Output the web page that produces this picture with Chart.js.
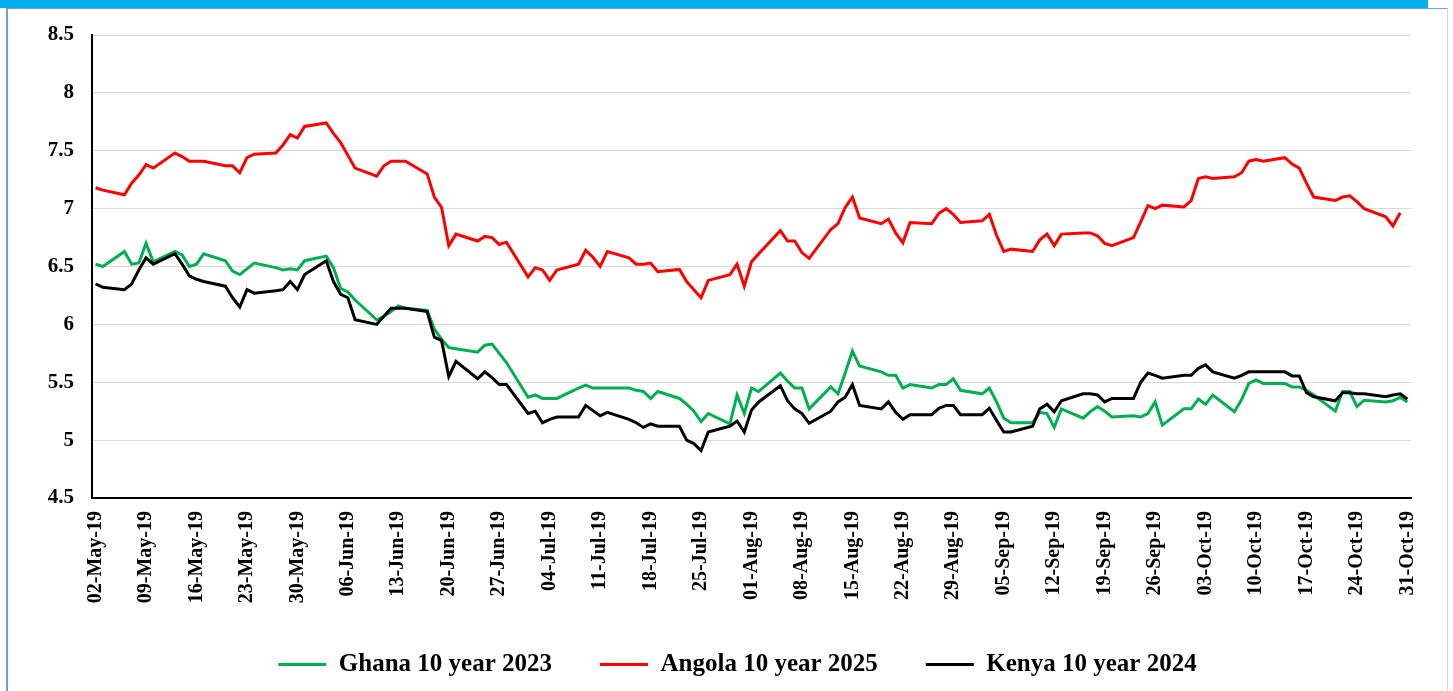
<!DOCTYPE html>
<html>
<head>
<meta charset="utf-8">
<script src="https://cdn.jsdelivr.net/npm/chart.js@4.4.1/dist/chart.umd.min.js"></script>
<style>
  html, body { margin: 0; padding: 0; background: #fff; overflow: hidden; }
  #wrap { position: relative; width: 1453px; height: 691px; }
  #topbar { position: absolute; left: 0; top: 0; width: 1428px; height: 8px; background: #00b0f0; }
  #frame { position: absolute; left: 6px; top: 8px; width: 1439px; height: 700px;
           border-left: 2px solid #6d9fd8; border-top: 1px solid #6d9fd8; border-right: 1px solid #d6d6d6; }
  canvas { position: absolute; left: 0; top: 0; }
</style>
</head>
<body>
<div id="wrap">
  <div id="topbar"></div>
  <div id="frame"></div>
  <canvas id="lineChart" width="1453" height="691"></canvas>
</div>
<script>
// trading days, 2019 (MM-DD)
const dates = ['05-02','05-03','05-06','05-07','05-08','05-09','05-10','05-13','05-14','05-15','05-16','05-17','05-20','05-21','05-22','05-23','05-24','05-27','05-28','05-29','05-30','05-31',
  '06-03','06-04','06-05','06-06','06-07','06-10','06-11','06-12','06-13','06-14','06-17','06-18','06-19','06-20','06-21','06-24','06-25','06-26','06-27','06-28',
  '07-01','07-02','07-03','07-04','07-05','07-08','07-09','07-10','07-11','07-12','07-15','07-16','07-17','07-18','07-19','07-22','07-23','07-24','07-25','07-26','07-29','07-30','07-31',
  '08-01','08-02','08-05','08-06','08-07','08-08','08-09','08-12','08-13','08-14','08-15','08-16','08-19','08-20','08-21','08-22','08-23','08-26','08-27','08-28','08-29','08-30',
  '09-02','09-03','09-04','09-05','09-06','09-09','09-10','09-11','09-12','09-13','09-16','09-17','09-18','09-19','09-20','09-23','09-24','09-25','09-26','09-27','09-30',
  '10-01','10-02','10-03','10-04','10-07','10-08','10-09','10-10','10-11','10-14','10-15','10-16','10-17','10-18','10-21','10-22','10-23','10-24','10-25','10-28','10-29','10-30','10-31'];

const ghana = [6.52,6.50,6.63,6.52,6.53,6.70,6.54,6.63,6.60,6.50,6.52,6.61,6.55,6.46,6.43,6.48,6.53,6.49,6.47,6.48,6.47,6.55,
  6.59,6.49,6.31,6.28,6.21,6.04,6.07,6.11,6.16,6.14,6.12,5.96,5.87,5.80,5.79,5.76,5.82,5.83,5.75,5.67,
  5.37,5.39,5.36,5.36,5.36,5.45,5.475,5.45,5.45,5.45,5.45,5.43,5.42,5.36,5.42,5.36,5.31,5.25,5.16,5.23,5.14,5.39,5.23,
  5.45,5.42,5.58,5.51,5.45,5.45,5.27,5.46,5.40,5.58,5.77,5.64,5.59,5.56,5.56,5.45,5.48,5.45,5.48,5.48,5.53,5.43,
  5.40,5.45,5.33,5.19,5.15,5.15,5.24,5.23,5.11,5.27,5.19,5.245,5.29,5.25,5.20,5.21,5.20,5.23,5.33,5.13,5.27,
  5.27,5.355,5.31,5.39,5.245,5.35,5.49,5.52,5.49,5.49,5.46,5.46,5.43,5.39,5.25,5.42,5.42,5.29,5.345,5.33,5.34,5.37,5.33];

const angola = [7.18,7.16,7.12,7.22,7.29,7.38,7.35,7.48,7.45,7.41,7.41,7.41,7.37,7.37,7.31,7.44,7.47,7.48,7.55,7.64,7.61,7.71,
  7.74,7.65,7.57,7.46,7.35,7.28,7.37,7.41,7.41,7.41,7.30,7.10,7.01,6.68,6.78,6.72,6.76,6.75,6.69,6.71,
  6.41,6.49,6.47,6.38,6.47,6.52,6.64,6.58,6.50,6.63,6.575,6.52,6.52,6.53,6.455,6.475,6.37,6.30,6.23,6.38,6.43,6.52,6.33,
  6.54,6.61,6.81,6.72,6.72,6.62,6.57,6.82,6.87,7.01,7.10,6.92,6.87,6.91,6.79,6.705,6.88,6.87,6.96,7.00,6.95,6.88,
  6.895,6.95,6.77,6.63,6.65,6.63,6.73,6.78,6.68,6.78,6.79,6.79,6.765,6.70,6.68,6.75,6.885,7.025,7.00,7.03,7.015,
  7.07,7.26,7.275,7.26,7.275,7.31,7.41,7.425,7.41,7.44,7.385,7.35,7.22,7.10,7.07,7.10,7.11,7.06,7.00,6.93,6.85,6.965,null];

const kenya = [6.35,6.32,6.30,6.35,6.47,6.575,6.52,6.61,6.52,6.42,6.39,6.37,6.33,6.23,6.15,6.30,6.27,6.29,6.30,6.37,6.30,6.43,
  6.55,6.37,6.26,6.23,6.04,6.00,6.07,6.14,6.14,6.14,6.11,5.89,5.86,5.55,5.68,5.53,5.59,5.54,5.48,5.48,
  5.23,5.25,5.15,5.18,5.20,5.20,5.30,5.255,5.21,5.24,5.18,5.15,5.11,5.14,5.12,5.12,5.00,4.97,4.91,5.07,5.12,5.165,5.07,
  5.26,5.33,5.47,5.34,5.27,5.23,5.145,5.25,5.33,5.37,5.48,5.30,5.27,5.33,5.24,5.18,5.22,5.22,5.275,5.30,5.30,5.22,
  5.22,5.275,5.17,5.07,5.07,5.12,5.27,5.31,5.245,5.34,5.40,5.40,5.39,5.33,5.36,5.36,5.50,5.58,5.56,5.535,5.56,
  5.56,5.62,5.65,5.59,5.535,5.56,5.59,5.59,5.59,5.59,5.555,5.555,5.41,5.375,5.34,5.41,5.41,5.40,5.40,5.375,5.39,5.40,5.355];

const xTickLabels = ['02-May-19','09-May-19','16-May-19','23-May-19','30-May-19','06-Jun-19','13-Jun-19','20-Jun-19','27-Jun-19',
  '04-Jul-19','11-Jul-19','18-Jul-19','25-Jul-19','01-Aug-19','08-Aug-19','15-Aug-19','22-Aug-19','29-Aug-19',
  '05-Sep-19','12-Sep-19','19-Sep-19','26-Sep-19','03-Oct-19','10-Oct-19','17-Oct-19','24-Oct-19','31-Oct-19'];

const months = {May: 4, Jun: 5, Jul: 6, Aug: 7, Sep: 8, Oct: 9};
const start = Date.UTC(2019, 4, 2);
function dayIndex(m, d) { return (Date.UTC(2019, m, d) - start) / 86400000; }
function dayOfDate(s) { const p = s.split('-'); return dayIndex(+p[0] - 1, +p[1]); }
function dayOfLabel(s) { const p = s.split('-'); return dayIndex(months[p[1]], +p[0]); }
const tickDays = xTickLabels.map(dayOfLabel);
const points = vals => vals.map((v, i) => ({x: dayOfDate(dates[i]), y: v}));

const fontFamily = '"Liberation Serif", "Times New Roman", serif';
Chart.defaults.font.family = fontFamily;
Chart.defaults.font.weight = 'bold';
Chart.defaults.color = '#000';

var ctx = document.getElementById('lineChart').getContext('2d');
var myLineChart = new Chart(ctx, {
  type: 'line',
  data: {
    datasets: [
      {
        label: 'Ghana 10 year 2023',
        data: points(ghana),
        borderColor: '#00b050',
        backgroundColor: '#00b050',
        borderWidth: 3,
        pointRadius: 0,
        order: 3
      },
      {
        label: 'Angola 10 year 2025',
        data: points(angola),
        borderColor: '#ff0000',
        backgroundColor: '#ff0000',
        borderWidth: 3,
        pointRadius: 0,
        order: 2
      },
      {
        label: 'Kenya 10 year 2024',
        data: points(kenya),
        borderColor: '#000000',
        backgroundColor: '#000000',
        borderWidth: 3,
        pointRadius: 0,
        order: 1
      }
    ]
  },
  options: {
    responsive: false,
    animation: false,
    layout: { padding: { left: 40, right: 18, top: 35, bottom: 4 } },
    plugins: {
      tooltip: { enabled: false },
      legend: {
        position: 'bottom',
        labels: {
          usePointStyle: true,
          pointStyle: 'line',
          pointStyleWidth: 48,
          padding: 48,
          color: '#000',
          font: { size: 25, weight: 'bold' },
          sort: (a, b) => a.datasetIndex - b.datasetIndex
        }
      }
    },
    scales: {
      x: {
        type: 'linear',
        min: -0.5,
        max: 182.5,
        afterBuildTicks: axis => { axis.ticks = tickDays.map(v => ({value: v})); },
        afterFit: axis => { axis.height = 106; },
        ticks: {
          autoSkip: false,
          maxRotation: 90,
          minRotation: 90,
          padding: 13,
          font: { size: 20, weight: 'bold' },
          callback: (v, i) => xTickLabels[i]
        },
        grid: { drawOnChartArea: false, drawTicks: false },
        border: { color: '#000', width: 2 }
      },
      y: {
        min: 4.5,
        max: 8.5,
        afterFit: axis => { axis.width = 52; },
        ticks: { stepSize: 0.5, padding: 18, font: { size: 21, weight: 'bold' }, callback: v => String(v) },
        grid: { color: '#d9d9d9', lineWidth: 1, drawTicks: false },
        border: { color: '#000', width: 2 }
      },
      // empty right-hand margin, no marks
      yRight: {
        position: 'right',
        min: 4.5,
        max: 8.5,
        afterFit: axis => { axis.width = 24; },
        ticks: { display: false },
        grid: { drawOnChartArea: false, drawTicks: false },
        border: { display: false }
      }
    }
  }
});
</script>
</body>
</html>
